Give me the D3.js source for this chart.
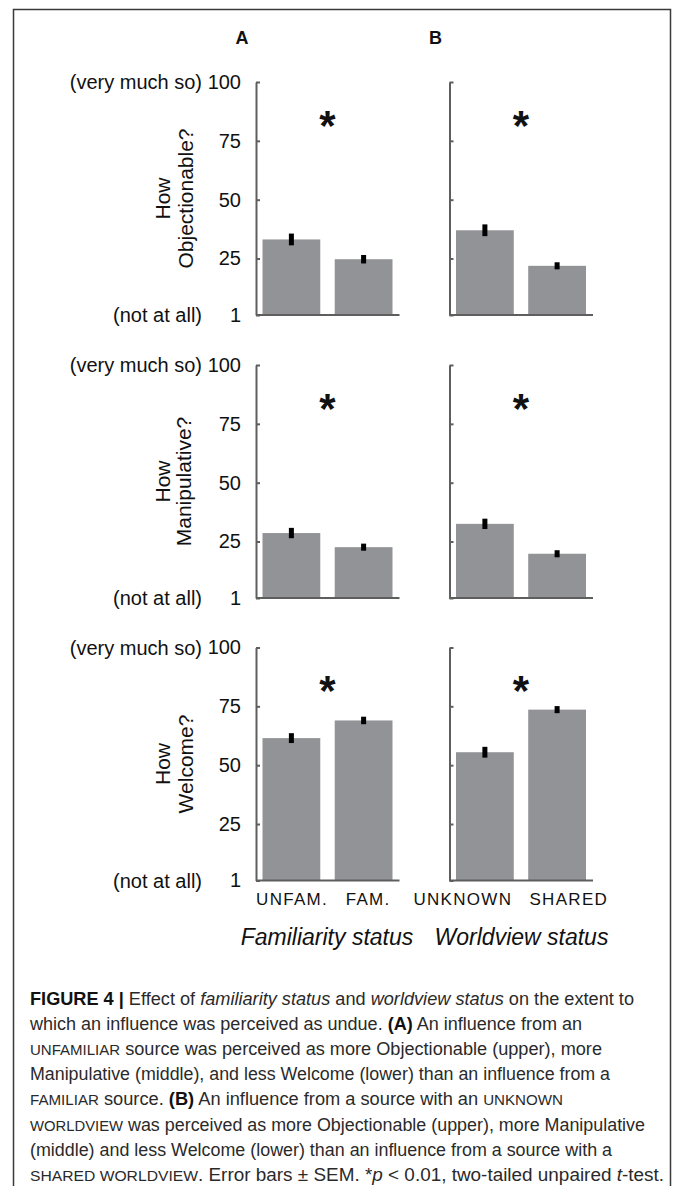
<!DOCTYPE html>
<html><head><meta charset="utf-8">
<script src="https://cdn.jsdelivr.net/npm/d3@7"></script>
<style>
html,body{margin:0;padding:0;background:#fff;}
svg{display:block;font-family:"Liberation Sans",Arial,sans-serif;}
</style></head>
<body>
<script>
// ---------- DATA ----------
const panels = ["A", "B"];
const categoriesA = ["UNFAM.", "FAM."];
const categoriesB = ["UNKNOWN", "SHARED"];
const groupTitles = ["Familiarity status", "Worldview status"];
const measures = ["Objectionable?", "Manipulative?", "Welcome?"];
const yTicks = [1, 25, 50, 75, 100];
const yEndLabels = ["(not at all)", "(very much so)"];

const objectionableA = [33.1, 24.7];
const objectionableSemA = [2.5, 1.8];
const objectionableB = [37.0, 21.9];
const objectionableSemB = [2.5, 1.5];

const manipulativeA = [28.6, 22.6];
const manipulativeSemA = [2.2, 1.5];
const manipulativeB = [32.5, 19.8];
const manipulativeSemB = [2.2, 1.5];

const welcomeA = [61.5, 69.0];
const welcomeSemA = [2.1, 1.6];
const welcomeB = [55.5, 73.6];
const welcomeSemB = [2.3, 1.5];

const starValue = 84;

const captionLines = [
  [["FIGURE 4 | ","b"],["Effect of ",""],["familiarity status","i"],[" and ",""],["worldview status","i"],[" on the extent to",""]],
  [["which an influence was perceived as undue. ",""],["(A)","b"],[" An influence from an",""]],
  [["UNFAMILIAR","sc"],[" source was perceived as more Objectionable (upper), more",""]],
  [["Manipulative (middle), and less Welcome (lower) than an influence from a",""]],
  [["FAMILIAR","sc"],[" source. ",""],["(B)","b"],[" An influence from a source with an ",""],["UNKNOWN","sc"]],
  [["WORLDVIEW","sc"],[" was perceived as more Objectionable (upper), more Manipulative",""]],
  [["(middle) and less Welcome (lower) than an influence from a source with a",""]],
  [["SHARED WORLDVIEW","sc"],[". Error bars \u00B1 SEM. *",""],["p","i"],[" < 0.01, two-tailed unpaired ",""],["t","i"],["-test.",""]]
];

// ---------- LAYOUT ----------
const W = 673, H = 1186;
const rowTops = [82, 365, 647.5];
const rowH = 233;
const panelX = [256, 449.5];
const panelW = 143.5;
const catDx = [[0.7, 4.5], [-22, 11.7]];
const titleX = [[170, 193], [170, 191], [170, 193]];
const captionEnds = [634, 582, 602, 610, 563, 645, 612, 664];
const captionTop = 1005, captionStep = 25.1;

const rows = [
  {A: objectionableA, sA: objectionableSemA, B: objectionableB, sB: objectionableSemB},
  {A: manipulativeA, sA: manipulativeSemA, B: manipulativeB, sB: manipulativeSemB},
  {A: welcomeA, sA: welcomeSemA, B: welcomeB, sB: welcomeSemB}
];

const svg = d3.select("body").append("svg").attr("width", W).attr("height", H);

// outer frame
svg.append("rect").attr("x", 13.5).attr("y", 9.5).attr("width", 657).attr("height", 1200)
  .attr("fill", "none").attr("stroke", "#3a3a3a").attr("stroke-width", 1.5);

// panel letters
panels.forEach((p, pi) => {
  svg.append("text").attr("x", panelX[pi] - 14).attr("y", 44)
    .attr("text-anchor", "middle").attr("font-size", 18).attr("font-weight", "bold")
    .attr("fill", "#111").text(p);
});

const barColor = "#929396";
const axisColor = "#5e5e5e";

rows.forEach((row, ri) => {
  const top = rowTops[ri];
  const y = d3.scaleLinear().domain([1, 100]).range([top + rowH, top]);

  panels.forEach((p, pi) => {
    const x0 = panelX[pi];
    const cats = pi === 0 ? categoriesA : categoriesB;
    const vals = row[p];
    const sems = pi === 0 ? row.sA : row.sB;
    const x = d3.scaleBand().domain(cats).range([x0 + 6.5, x0 + 136.5]).paddingInner(0.2);
    const g = svg.append("g");

    // bars
    g.selectAll("rect.bar").data(cats).join("rect").attr("class", "bar")
      .attr("x", d => x(d)).attr("width", x.bandwidth())
      .attr("y", (d, i) => y(vals[i])).attr("height", (d, i) => y(1) - y(vals[i]))
      .attr("fill", barColor);

    // error bars
    g.selectAll("rect.err").data(cats).join("rect").attr("class", "err")
      .attr("x", d => x(d) + x.bandwidth() / 2 - 2.5).attr("width", 5)
      .attr("y", (d, i) => y(vals[i] + sems[i]))
      .attr("height", (d, i) => y(vals[i] - sems[i]) - y(vals[i] + sems[i]))
      .attr("fill", "#000");

    // y axis
    const axis = d3.axisLeft(y).tickValues(yTicks).tickSizeInner(-4).tickSizeOuter(0).tickPadding(15);
    if (pi === 1) axis.tickFormat("");
    const ag = svg.append("g").attr("transform", `translate(${x0},0)`).call(axis);
    ag.select(".domain").attr("stroke", axisColor).attr("stroke-width", 2);
    ag.selectAll(".tick line").attr("stroke", axisColor).attr("stroke-width", 2);
    ag.selectAll(".tick text").attr("font-size", 20).attr("fill", "#111")
      .attr("font-family", "Liberation Sans, Arial, sans-serif");

    // x baseline
    svg.append("line").attr("x1", x0).attr("x2", x0 + panelW)
      .attr("y1", y(1)).attr("y2", y(1)).attr("stroke", axisColor).attr("stroke-width", 2);

    // significance star
    svg.append("text").attr("x", (x(cats[0]) + x(cats[1]) + x.bandwidth()) / 2)
      .attr("y", y(starValue) + 20).attr("text-anchor", "middle")
      .attr("font-size", 42).attr("font-weight", "bold").attr("fill", "#111").text("*");

    // category labels (bottom row only)
    if (ri === 2) {
      svg.selectAll(null).data(cats).join("text")
        .attr("x", (d, i) => x(d) + x.bandwidth() / 2 + catDx[pi][i])
        .attr("y", y(1) + 24).attr("text-anchor", "middle")
        .attr("font-size", 17).attr("letter-spacing", 1.3).attr("fill", "#111").text(d => d);
      svg.append("text").attr("x", x0 + 72 - (pi === 0 ? 1 : 0)).attr("y", y(1) + 64)
        .attr("text-anchor", "middle").attr("font-size", 23).attr("font-style", "italic")
        .attr("fill", "#111").text(groupTitles[pi]);
    }
  });

  // end labels
  svg.append("text").attr("x", 202).attr("y", y(100)).attr("dy", "0.35em")
    .attr("text-anchor", "end").attr("font-size", 20).attr("fill", "#111").text(yEndLabels[1]);
  svg.append("text").attr("x", 202).attr("y", y(1)).attr("dy", "0.35em")
    .attr("text-anchor", "end").attr("font-size", 20).attr("fill", "#111").text(yEndLabels[0]);

  // rotated measure title
  const cy = (y(1) + y(100)) / 2;
  ["How", measures[ri]].forEach((t, li) => {
    svg.append("text").attr("transform", `translate(${titleX[ri][li]},${cy}) rotate(-90)`)
      .attr("text-anchor", "middle").attr("font-size", 21).attr("fill", "#111").text(t);
  });
});

// caption
captionLines.forEach((segs, li) => {
  const t = svg.append("text").attr("x", 30).attr("y", captionTop + li * captionStep)
    .attr("font-size", 17.5).attr("fill", "#2a2a2a")
    .attr("font-family", "'Liberation Sans Narrow','Liberation Sans',Arial,sans-serif")
    .attr("textLength", captionEnds[li] - 30).attr("lengthAdjust", "spacingAndGlyphs");
  segs.forEach(([s, st]) => {
    const ts = t.append("tspan").text(s);
    if (st === "b") ts.attr("font-weight", "bold").attr("fill", "#111");
    if (st === "i") ts.attr("font-style", "italic");
    if (st === "sc") ts.attr("font-size", 14.5);
  });
});
</script>
</body></html>
